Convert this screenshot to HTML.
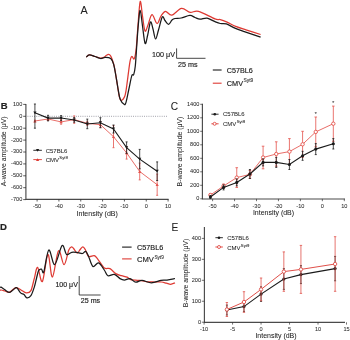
<!DOCTYPE html>
<html><head><meta charset="utf-8"><style>
html,body{margin:0;padding:0;background:#fff;width:350px;height:340px;overflow:hidden}
svg{display:block;will-change:transform}
text{font-family:"Liberation Sans",sans-serif;stroke:#1a1a1a;stroke-width:0.2px}
text.rl{stroke-width:0.02px}
tspan{stroke-width:0.06px}
text.sm{stroke-width:0.04px;fill:#2a2a2a;stroke:#2a2a2a}
text.lg{stroke-width:0.04px}
text.pl{stroke-width:0.05px}
text.bd{stroke-width:0.15px}
</style></head><body>
<svg width="350" height="340" viewBox="0 0 350 340">
<rect width="350" height="340" fill="#fff"/>
<path d="M86.20,57.10 C86.72,56.72 87.83,54.90 89.30,54.80 C90.77,54.70 93.12,55.93 95.00,56.50 C96.88,57.07 99.10,58.07 100.60,58.20 C102.10,58.33 103.02,57.80 104.00,57.30 C104.98,56.80 105.73,55.68 106.50,55.20 C107.27,54.72 107.92,54.30 108.60,54.40 C109.28,54.50 110.00,54.95 110.60,55.80 C111.20,56.65 111.53,57.47 112.20,59.50 C112.87,61.53 113.73,63.72 114.60,68.00 C115.47,72.28 116.62,80.43 117.40,85.20 C118.18,89.97 118.65,94.07 119.30,96.60 C119.95,99.13 120.50,100.23 121.30,100.40 C122.10,100.57 123.32,99.18 124.10,97.60 C124.88,96.02 125.03,96.80 126.00,90.90 C126.97,85.00 128.93,67.93 129.90,62.20 C130.87,56.47 131.08,57.07 131.80,56.50 C132.52,55.93 133.47,60.08 134.20,58.80 C134.93,57.52 135.57,54.43 136.20,48.80 C136.83,43.17 137.33,32.88 138.00,25.00 C138.67,17.12 139.45,3.00 140.20,1.50 C140.95,0.00 141.70,11.08 142.50,16.00 C143.30,20.92 144.08,29.50 145.00,31.00 C145.92,32.50 146.83,27.72 148.00,25.00 C149.17,22.28 150.48,14.95 152.00,14.70 C153.52,14.45 155.60,23.28 157.10,23.50 C158.60,23.72 159.60,18.03 161.00,16.00 C162.40,13.97 163.70,11.43 165.50,11.30 C167.30,11.17 169.13,15.68 171.80,15.20 C174.47,14.72 178.43,8.88 181.50,8.40 C184.57,7.92 187.37,11.82 190.20,12.30 C193.03,12.78 194.37,10.20 198.50,11.30 C202.63,12.40 211.37,17.52 215.00,18.90 C218.63,20.28 218.28,19.07 220.30,19.60 C222.32,20.13 224.53,20.97 227.10,22.10 C229.67,23.23 232.55,25.10 235.70,26.40 C238.85,27.70 241.85,28.55 246.00,29.90 C250.15,31.25 258.17,33.73 260.60,34.50" fill="none" stroke="#de3a33" stroke-width="1.25" stroke-linejoin="round"/>
<path d="M86.20,57.10 C86.72,56.72 87.83,54.90 89.30,54.80 C90.77,54.70 93.12,55.88 95.00,56.50 C96.88,57.12 98.93,58.35 100.60,58.50 C102.27,58.65 103.32,57.42 105.00,57.40 C106.68,57.38 109.27,57.28 110.70,58.40 C112.13,59.52 112.63,60.60 113.60,64.10 C114.57,67.60 115.70,74.93 116.50,79.40 C117.30,83.87 117.77,87.55 118.40,90.90 C119.03,94.25 119.35,97.27 120.30,99.50 C121.25,101.73 123.15,103.82 124.10,104.30 C125.05,104.78 125.20,104.95 126.00,102.40 C126.80,99.85 127.93,93.47 128.90,89.00 C129.87,84.53 131.00,78.00 131.80,75.60 C132.60,73.20 133.12,76.20 133.70,74.60 C134.28,73.00 134.78,70.93 135.30,66.00 C135.82,61.07 136.30,51.83 136.80,45.00 C137.30,38.17 137.73,30.78 138.30,25.00 C138.87,19.22 139.50,10.13 140.20,10.30 C140.90,10.47 141.68,20.48 142.50,26.00 C143.32,31.52 144.23,41.90 145.10,43.40 C145.97,44.90 146.80,38.57 147.70,35.00 C148.60,31.43 149.62,23.00 150.50,22.00 C151.38,21.00 152.15,26.17 153.00,29.00 C153.85,31.83 154.68,38.83 155.60,39.00 C156.52,39.17 157.38,33.68 158.50,30.00 C159.62,26.32 161.22,18.48 162.30,16.90 C163.38,15.32 163.95,19.25 165.00,20.50 C166.05,21.75 167.43,24.48 168.60,24.40 C169.77,24.32 170.93,20.98 172.00,20.00 C173.07,19.02 173.47,18.83 175.00,18.50 C176.53,18.17 178.72,18.52 181.20,18.00 C183.68,17.48 187.60,15.48 189.90,15.40 C192.20,15.32 193.32,16.87 195.00,17.50 C196.68,18.13 197.98,19.10 200.00,19.20 C202.02,19.30 204.60,17.68 207.10,18.10 C209.60,18.52 212.80,20.80 215.00,21.70 C217.20,22.60 218.42,23.13 220.30,23.50 C222.18,23.87 223.87,23.13 226.30,23.90 C228.73,24.67 231.90,26.82 234.90,28.10 C237.90,29.38 240.02,30.08 244.30,31.60 C248.58,33.12 257.88,36.27 260.60,37.20" fill="none" stroke="#1a1a1a" stroke-width="1.25" stroke-linejoin="round"/>
<text x="80.50" y="13.60" font-size="10.80" text-anchor="start" fill="#222" class="pl">A</text>
<path d="M176.6,48.4 V58.3 H205.5" fill="none" stroke="#333" stroke-width="0.9"/>
<text x="175.00" y="57.00" font-size="7.20" text-anchor="end" fill="#222" class="bd">100 &#956;V</text>
<text x="178.00" y="67.00" font-size="7.20" text-anchor="start" fill="#222" class="bd">25 ms</text>
<line x1="212.8" y1="70" x2="221.6" y2="70" stroke="#1a1a1a" stroke-width="1.1"/>
<line x1="212.8" y1="83.2" x2="221.6" y2="83.2" stroke="#de3a33" stroke-width="1.1"/>
<text x="226.80" y="72.90" font-size="7.20" text-anchor="start" fill="#222" class="bd">C57BL6</text>
<text x="226.80" y="85.60" font-size="7.30" text-anchor="start" fill="#222" class="bd">CMV<tspan font-size="4.9" dy="-3.3" dx="0.5">Syt9</tspan></text>
<text x="0.80" y="109.40" font-size="9.50" text-anchor="start" fill="#222" font-weight="bold">B</text>
<path d="M25.9,104 V199.4 H168.6" fill="none" stroke="#4a4a4a" stroke-width="1.15"/>
<line x1="23.2" y1="104.40" x2="26" y2="104.40" stroke="#333" stroke-width="0.8"/>
<text x="22.30" y="105.80" font-size="5.60" text-anchor="end" fill="#222"  class="sm">100</text>
<line x1="23.2" y1="116.30" x2="26" y2="116.30" stroke="#333" stroke-width="0.8"/>
<text x="22.30" y="117.70" font-size="5.60" text-anchor="end" fill="#222"  class="sm">0</text>
<line x1="23.2" y1="128.20" x2="26" y2="128.20" stroke="#333" stroke-width="0.8"/>
<text x="22.30" y="129.60" font-size="5.60" text-anchor="end" fill="#222"  class="sm">-100</text>
<line x1="23.2" y1="140.10" x2="26" y2="140.10" stroke="#333" stroke-width="0.8"/>
<text x="22.30" y="141.50" font-size="5.60" text-anchor="end" fill="#222"  class="sm">-200</text>
<line x1="23.2" y1="152.00" x2="26" y2="152.00" stroke="#333" stroke-width="0.8"/>
<text x="22.30" y="153.40" font-size="5.60" text-anchor="end" fill="#222"  class="sm">-300</text>
<line x1="23.2" y1="163.90" x2="26" y2="163.90" stroke="#333" stroke-width="0.8"/>
<text x="22.30" y="165.30" font-size="5.60" text-anchor="end" fill="#222"  class="sm">-400</text>
<line x1="23.2" y1="175.80" x2="26" y2="175.80" stroke="#333" stroke-width="0.8"/>
<text x="22.30" y="177.20" font-size="5.60" text-anchor="end" fill="#222"  class="sm">-500</text>
<line x1="23.2" y1="187.70" x2="26" y2="187.70" stroke="#333" stroke-width="0.8"/>
<text x="22.30" y="189.10" font-size="5.60" text-anchor="end" fill="#222"  class="sm">-600</text>
<line x1="23.2" y1="199.60" x2="26" y2="199.60" stroke="#333" stroke-width="0.8"/>
<text x="22.30" y="201.00" font-size="5.60" text-anchor="end" fill="#222"  class="sm">-700</text>
<line x1="37.10" y1="199.2" x2="37.10" y2="201.5" stroke="#333" stroke-width="0.8"/>
<text x="37.10" y="208.40" font-size="5.60" text-anchor="middle" fill="#222"  class="sm">-50</text>
<line x1="58.93" y1="199.2" x2="58.93" y2="201.5" stroke="#333" stroke-width="0.8"/>
<text x="58.93" y="208.40" font-size="5.60" text-anchor="middle" fill="#222"  class="sm">-40</text>
<line x1="80.76" y1="199.2" x2="80.76" y2="201.5" stroke="#333" stroke-width="0.8"/>
<text x="80.76" y="208.40" font-size="5.60" text-anchor="middle" fill="#222"  class="sm">-30</text>
<line x1="102.59" y1="199.2" x2="102.59" y2="201.5" stroke="#333" stroke-width="0.8"/>
<text x="102.59" y="208.40" font-size="5.60" text-anchor="middle" fill="#222"  class="sm">-20</text>
<line x1="124.42" y1="199.2" x2="124.42" y2="201.5" stroke="#333" stroke-width="0.8"/>
<text x="124.42" y="208.40" font-size="5.60" text-anchor="middle" fill="#222"  class="sm">-10</text>
<line x1="146.25" y1="199.2" x2="146.25" y2="201.5" stroke="#333" stroke-width="0.8"/>
<text x="146.25" y="208.40" font-size="5.60" text-anchor="middle" fill="#222"  class="sm">0</text>
<line x1="168.08" y1="199.2" x2="168.08" y2="201.5" stroke="#333" stroke-width="0.8"/>
<text x="168.08" y="208.40" font-size="5.60" text-anchor="middle" fill="#222"  class="sm">10</text>
<text x="97.20" y="216.40" font-size="7.00" text-anchor="middle" fill="#222" class="lg">Intensity (dB)</text>
<text transform="translate(5.8,151.3) rotate(-90)" font-size="6.9" text-anchor="middle" fill="#222" class="rl">A-wave amplitude (&#956;V)</text>
<line x1="27.5" y1="116.3" x2="168" y2="116.3" stroke="#445" stroke-width="0.55" stroke-dasharray="0.9,1.3"/>
<polyline points="34.92,121.00 48.02,119.00 61.11,121.90 74.21,119.60 87.31,123.30 100.41,124.70 113.50,136.70 126.60,152.90 139.70,171.50 157.16,184.70" fill="none" stroke="#e4534d" stroke-width="0.85"/>
<path d="M34.92,120.20 V121.80 M33.92,120.20 h2.00 M33.92,121.80 h2.00" stroke="#e4534d" stroke-width="0.8"/>
<path d="M33.32,122.40 h3.2 l-1.6,-2.8 z" fill="#e4534d"/>
<path d="M48.02,117.50 V120.50 M47.02,117.50 h2.00 M47.02,120.50 h2.00" stroke="#e4534d" stroke-width="0.8"/>
<path d="M46.41,120.40 h3.2 l-1.6,-2.8 z" fill="#e4534d"/>
<path d="M61.11,119.60 V124.20 M60.11,119.60 h2.00 M60.11,124.20 h2.00" stroke="#e4534d" stroke-width="0.8"/>
<path d="M59.51,123.30 h3.2 l-1.6,-2.8 z" fill="#e4534d"/>
<path d="M74.21,115.90 V123.30 M73.21,115.90 h2.00 M73.21,123.30 h2.00" stroke="#e4534d" stroke-width="0.8"/>
<path d="M72.61,121.00 h3.2 l-1.6,-2.8 z" fill="#e4534d"/>
<path d="M87.31,121.30 V125.30 M86.31,121.30 h2.00 M86.31,125.30 h2.00" stroke="#e4534d" stroke-width="0.8"/>
<path d="M85.71,124.70 h3.2 l-1.6,-2.8 z" fill="#e4534d"/>
<path d="M100.41,121.70 V127.70 M99.41,121.70 h2.00 M99.41,127.70 h2.00" stroke="#e4534d" stroke-width="0.8"/>
<path d="M98.81,126.10 h3.2 l-1.6,-2.8 z" fill="#e4534d"/>
<path d="M113.50,125.70 V147.70 M112.50,125.70 h2.00 M112.50,147.70 h2.00" stroke="#e4534d" stroke-width="0.8"/>
<path d="M111.91,138.10 h3.2 l-1.6,-2.8 z" fill="#e4534d"/>
<path d="M126.60,146.70 V159.10 M125.60,146.70 h2.00 M125.60,159.10 h2.00" stroke="#e4534d" stroke-width="0.8"/>
<path d="M125.00,154.30 h3.2 l-1.6,-2.8 z" fill="#e4534d"/>
<path d="M139.70,163.10 V179.90 M138.70,163.10 h2.00 M138.70,179.90 h2.00" stroke="#e4534d" stroke-width="0.8"/>
<path d="M138.10,172.90 h3.2 l-1.6,-2.8 z" fill="#e4534d"/>
<path d="M157.16,174.10 V195.30 M156.16,174.10 h2.00 M156.16,195.30 h2.00" stroke="#e4534d" stroke-width="0.8"/>
<path d="M155.56,186.10 h3.2 l-1.6,-2.8 z" fill="#e4534d"/>
<polyline points="34.92,112.80 48.02,118.10 61.11,118.10 74.21,119.90 87.31,123.90 100.41,122.70 113.50,129.00 126.60,147.60 139.70,159.10 157.16,171.20" fill="none" stroke="#1a1a1a" stroke-width="1.05"/>
<path d="M34.92,104.00 V128.20 M33.92,104.00 h2.00 M33.92,128.20 h2.00" stroke="#1a1a1a" stroke-width="0.8"/>
<path d="M33.32,111.40 h3.2 l-1.6,2.8 z" fill="#1a1a1a"/>
<path d="M48.02,115.30 V120.90 M47.02,115.30 h2.00 M47.02,120.90 h2.00" stroke="#1a1a1a" stroke-width="0.8"/>
<path d="M46.41,116.70 h3.2 l-1.6,2.8 z" fill="#1a1a1a"/>
<path d="M61.11,115.60 V120.60 M60.11,115.60 h2.00 M60.11,120.60 h2.00" stroke="#1a1a1a" stroke-width="0.8"/>
<path d="M59.51,116.70 h3.2 l-1.6,2.8 z" fill="#1a1a1a"/>
<path d="M74.21,117.60 V122.20 M73.21,117.60 h2.00 M73.21,122.20 h2.00" stroke="#1a1a1a" stroke-width="0.8"/>
<path d="M72.61,118.50 h3.2 l-1.6,2.8 z" fill="#1a1a1a"/>
<path d="M87.31,119.10 V128.70 M86.31,119.10 h2.00 M86.31,128.70 h2.00" stroke="#1a1a1a" stroke-width="0.8"/>
<path d="M85.71,122.50 h3.2 l-1.6,2.8 z" fill="#1a1a1a"/>
<path d="M100.41,117.70 V127.70 M99.41,117.70 h2.00 M99.41,127.70 h2.00" stroke="#1a1a1a" stroke-width="0.8"/>
<path d="M98.81,121.30 h3.2 l-1.6,2.8 z" fill="#1a1a1a"/>
<path d="M113.50,125.00 V133.00 M112.50,125.00 h2.00 M112.50,133.00 h2.00" stroke="#1a1a1a" stroke-width="0.8"/>
<path d="M111.91,127.60 h3.2 l-1.6,2.8 z" fill="#1a1a1a"/>
<path d="M126.60,141.90 V153.30 M125.60,141.90 h2.00 M125.60,153.30 h2.00" stroke="#1a1a1a" stroke-width="0.8"/>
<path d="M125.00,146.20 h3.2 l-1.6,2.8 z" fill="#1a1a1a"/>
<path d="M139.70,149.40 V168.80 M138.70,149.40 h2.00 M138.70,168.80 h2.00" stroke="#1a1a1a" stroke-width="0.8"/>
<path d="M138.10,157.70 h3.2 l-1.6,2.8 z" fill="#1a1a1a"/>
<path d="M157.16,161.90 V180.50 M156.16,161.90 h2.00 M156.16,180.50 h2.00" stroke="#1a1a1a" stroke-width="0.8"/>
<path d="M155.56,169.80 h3.2 l-1.6,2.8 z" fill="#1a1a1a"/>
<line x1="33.3" y1="150.3" x2="41.9" y2="150.3" stroke="#1a1a1a" stroke-width="0.9"/><path d="M36,148.9 h3.2 l-1.6,2.8 z" fill="#1a1a1a"/>
<line x1="33.3" y1="159.6" x2="41.9" y2="159.6" stroke="#de3a33" stroke-width="0.9"/><path d="M36,161 h3.2 l-1.6,-2.8 z" fill="#de3a33"/>
<text x="45.70" y="152.70" font-size="6.00" text-anchor="start" fill="#222" class="lg">C57BL6</text>
<text x="45.70" y="162.20" font-size="6.00" text-anchor="start" fill="#222" class="lg">CMV<tspan font-size="4.2" dy="-3" dx="0.3">Syt9</tspan></text>
<text x="170.80" y="109.80" font-size="10.20" text-anchor="start" fill="#222" class="pl">C</text>
<path d="M202.4,103.8 V199 H345" fill="none" stroke="#4a4a4a" stroke-width="1.15"/>
<line x1="200.2" y1="198.80" x2="202.7" y2="198.80" stroke="#333" stroke-width="0.7"/>
<text x="199.40" y="200.30" font-size="5.60" text-anchor="end" fill="#222"  class="sm">0</text>
<line x1="200.2" y1="185.30" x2="202.7" y2="185.30" stroke="#333" stroke-width="0.7"/>
<text x="199.40" y="186.80" font-size="5.60" text-anchor="end" fill="#222"  class="sm">200</text>
<line x1="200.2" y1="171.80" x2="202.7" y2="171.80" stroke="#333" stroke-width="0.7"/>
<text x="199.40" y="173.30" font-size="5.60" text-anchor="end" fill="#222"  class="sm">400</text>
<line x1="200.2" y1="158.30" x2="202.7" y2="158.30" stroke="#333" stroke-width="0.7"/>
<text x="199.40" y="159.80" font-size="5.60" text-anchor="end" fill="#222"  class="sm">600</text>
<line x1="200.2" y1="144.80" x2="202.7" y2="144.80" stroke="#333" stroke-width="0.7"/>
<text x="199.40" y="146.30" font-size="5.60" text-anchor="end" fill="#222"  class="sm">800</text>
<line x1="200.2" y1="131.30" x2="202.7" y2="131.30" stroke="#333" stroke-width="0.7"/>
<text x="199.40" y="132.80" font-size="5.60" text-anchor="end" fill="#222"  class="sm">1000</text>
<line x1="200.2" y1="117.80" x2="202.7" y2="117.80" stroke="#333" stroke-width="0.7"/>
<text x="199.40" y="119.30" font-size="5.60" text-anchor="end" fill="#222"  class="sm">1200</text>
<line x1="200.2" y1="104.30" x2="202.7" y2="104.30" stroke="#333" stroke-width="0.7"/>
<text x="199.40" y="105.80" font-size="5.60" text-anchor="end" fill="#222"  class="sm">1400</text>
<line x1="212.60" y1="198.9" x2="212.60" y2="201.2" stroke="#333" stroke-width="0.7"/>
<text x="212.60" y="208.00" font-size="5.60" text-anchor="middle" fill="#222"  class="sm">-50</text>
<line x1="234.55" y1="198.9" x2="234.55" y2="201.2" stroke="#333" stroke-width="0.7"/>
<text x="234.55" y="208.00" font-size="5.60" text-anchor="middle" fill="#222"  class="sm">-40</text>
<line x1="256.50" y1="198.9" x2="256.50" y2="201.2" stroke="#333" stroke-width="0.7"/>
<text x="256.50" y="208.00" font-size="5.60" text-anchor="middle" fill="#222"  class="sm">-30</text>
<line x1="278.45" y1="198.9" x2="278.45" y2="201.2" stroke="#333" stroke-width="0.7"/>
<text x="278.45" y="208.00" font-size="5.60" text-anchor="middle" fill="#222"  class="sm">-20</text>
<line x1="300.40" y1="198.9" x2="300.40" y2="201.2" stroke="#333" stroke-width="0.7"/>
<text x="300.40" y="208.00" font-size="5.60" text-anchor="middle" fill="#222"  class="sm">-10</text>
<line x1="322.35" y1="198.9" x2="322.35" y2="201.2" stroke="#333" stroke-width="0.7"/>
<text x="322.35" y="208.00" font-size="5.60" text-anchor="middle" fill="#222"  class="sm">0</text>
<line x1="344.30" y1="198.9" x2="344.30" y2="201.2" stroke="#333" stroke-width="0.7"/>
<text x="344.30" y="208.00" font-size="5.60" text-anchor="middle" fill="#222"  class="sm">10</text>
<text x="273.50" y="214.50" font-size="7.00" text-anchor="middle" fill="#222" class="lg">Intensity (dB)</text>
<text transform="translate(182.2,151.5) rotate(-90)" font-size="6.9" text-anchor="middle" fill="#222" class="rl">B-wave amplitude (&#956;V)</text>
<polyline points="210.41,195.00 223.57,186.00 236.75,177.60 249.91,174.40 263.08,157.50 276.25,154.00 289.42,151.60 302.59,144.30 315.76,131.90 333.32,123.70" fill="none" stroke="#e4534d" stroke-width="0.85"/>
<path d="M210.41,193.50 V196.50 M209.10,193.50 h2.60 M209.10,196.50 h2.60" stroke="#e4534d" stroke-width="0.8"/>
<circle cx="210.41" cy="195.00" r="1.7" fill="#fff" stroke="#e4534d" stroke-width="0.9"/>
<path d="M223.57,184.00 V188.00 M222.27,184.00 h2.60 M222.27,188.00 h2.60" stroke="#e4534d" stroke-width="0.8"/>
<circle cx="223.57" cy="186.00" r="1.7" fill="#fff" stroke="#e4534d" stroke-width="0.9"/>
<path d="M236.75,167.70 V187.50 M235.44,167.70 h2.60 M235.44,187.50 h2.60" stroke="#e4534d" stroke-width="0.8"/>
<circle cx="236.75" cy="177.60" r="1.7" fill="#fff" stroke="#e4534d" stroke-width="0.9"/>
<path d="M249.91,170.40 V178.40 M248.61,170.40 h2.60 M248.61,178.40 h2.60" stroke="#e4534d" stroke-width="0.8"/>
<circle cx="249.91" cy="174.40" r="1.7" fill="#fff" stroke="#e4534d" stroke-width="0.9"/>
<path d="M263.08,146.20 V168.80 M261.78,146.20 h2.60 M261.78,168.80 h2.60" stroke="#e4534d" stroke-width="0.8"/>
<circle cx="263.08" cy="157.50" r="1.7" fill="#fff" stroke="#e4534d" stroke-width="0.9"/>
<path d="M276.25,141.80 V166.20 M274.95,141.80 h2.60 M274.95,166.20 h2.60" stroke="#e4534d" stroke-width="0.8"/>
<circle cx="276.25" cy="154.00" r="1.7" fill="#fff" stroke="#e4534d" stroke-width="0.9"/>
<path d="M289.42,138.60 V164.60 M288.12,138.60 h2.60 M288.12,164.60 h2.60" stroke="#e4534d" stroke-width="0.8"/>
<circle cx="289.42" cy="151.60" r="1.7" fill="#fff" stroke="#e4534d" stroke-width="0.9"/>
<path d="M302.59,131.30 V157.30 M301.29,131.30 h2.60 M301.29,157.30 h2.60" stroke="#e4534d" stroke-width="0.8"/>
<circle cx="302.59" cy="144.30" r="1.7" fill="#fff" stroke="#e4534d" stroke-width="0.9"/>
<path d="M315.76,117.00 V146.80 M314.46,117.00 h2.60 M314.46,146.80 h2.60" stroke="#e4534d" stroke-width="0.8"/>
<circle cx="315.76" cy="131.90" r="1.7" fill="#fff" stroke="#e4534d" stroke-width="0.9"/>
<path d="M333.32,106.10 V141.30 M332.02,106.10 h2.60 M332.02,141.30 h2.60" stroke="#e4534d" stroke-width="0.8"/>
<circle cx="333.32" cy="123.70" r="1.7" fill="#fff" stroke="#e4534d" stroke-width="0.9"/>
<polyline points="210.41,197.00 223.57,187.40 236.75,182.40 249.91,174.00 263.08,162.40 276.25,162.40 289.42,164.50 302.59,155.80 315.76,149.10 333.32,143.80" fill="none" stroke="#1a1a1a" stroke-width="1.10"/>
<path d="M210.41,195.50 V198.50 M209.41,195.50 h2.00 M209.41,198.50 h2.00" stroke="#1a1a1a" stroke-width="0.8"/>
<circle cx="210.41" cy="197.00" r="1.55" fill="#1a1a1a"/>
<path d="M223.57,184.90 V189.90 M222.57,184.90 h2.00 M222.57,189.90 h2.00" stroke="#1a1a1a" stroke-width="0.8"/>
<circle cx="223.57" cy="187.40" r="1.55" fill="#1a1a1a"/>
<path d="M236.75,178.90 V185.90 M235.75,178.90 h2.00 M235.75,185.90 h2.00" stroke="#1a1a1a" stroke-width="0.8"/>
<circle cx="236.75" cy="182.40" r="1.55" fill="#1a1a1a"/>
<path d="M249.91,169.50 V178.50 M248.91,169.50 h2.00 M248.91,178.50 h2.00" stroke="#1a1a1a" stroke-width="0.8"/>
<circle cx="249.91" cy="174.00" r="1.55" fill="#1a1a1a"/>
<path d="M263.08,158.90 V165.90 M262.08,158.90 h2.00 M262.08,165.90 h2.00" stroke="#1a1a1a" stroke-width="0.8"/>
<circle cx="263.08" cy="162.40" r="1.55" fill="#1a1a1a"/>
<path d="M276.25,157.40 V167.40 M275.25,157.40 h2.00 M275.25,167.40 h2.00" stroke="#1a1a1a" stroke-width="0.8"/>
<circle cx="276.25" cy="162.40" r="1.55" fill="#1a1a1a"/>
<path d="M289.42,159.50 V169.50 M288.42,159.50 h2.00 M288.42,169.50 h2.00" stroke="#1a1a1a" stroke-width="0.8"/>
<circle cx="289.42" cy="164.50" r="1.55" fill="#1a1a1a"/>
<path d="M302.59,151.30 V160.30 M301.59,151.30 h2.00 M301.59,160.30 h2.00" stroke="#1a1a1a" stroke-width="0.8"/>
<circle cx="302.59" cy="155.80" r="1.55" fill="#1a1a1a"/>
<path d="M315.76,143.60 V154.60 M314.76,143.60 h2.00 M314.76,154.60 h2.00" stroke="#1a1a1a" stroke-width="0.8"/>
<circle cx="315.76" cy="149.10" r="1.55" fill="#1a1a1a"/>
<path d="M333.32,138.60 V149.00 M332.32,138.60 h2.00 M332.32,149.00 h2.00" stroke="#1a1a1a" stroke-width="0.8"/>
<circle cx="333.32" cy="143.80" r="1.55" fill="#1a1a1a"/>
<text x="315.76" y="115.70" font-size="5.00" text-anchor="middle" fill="#222" class="sm">*</text>
<text x="333.32" y="105.00" font-size="5.00" text-anchor="middle" fill="#222" class="sm">*</text>
<line x1="211.4" y1="114.2" x2="218.6" y2="114.2" stroke="#1a1a1a" stroke-width="0.9"/><circle cx="214.8" cy="114.2" r="1.3" fill="#1a1a1a"/>
<line x1="211.4" y1="123.8" x2="218.6" y2="123.8" stroke="#de3a33" stroke-width="0.9"/><circle cx="214.6" cy="123.8" r="1.5" fill="#fff" stroke="#de3a33" stroke-width="0.8"/>
<text x="223.00" y="115.80" font-size="6.00" text-anchor="start" fill="#222" class="lg">C57BL6</text>
<text x="223.00" y="126.30" font-size="6.00" text-anchor="start" fill="#222" class="lg">CMV<tspan font-size="4.2" dy="-3" dx="0.3">Syt9</tspan></text>
<path d="M0.00,290.50 C0.18,290.42 0.27,289.92 1.10,290.00 C1.93,290.08 3.67,290.62 5.00,291.00 C6.33,291.38 7.77,292.55 9.10,292.30 C10.43,292.05 11.75,290.27 13.00,289.50 C14.25,288.73 15.27,287.62 16.60,287.70 C17.93,287.78 19.38,289.13 21.00,290.00 C22.62,290.87 24.65,292.80 26.30,292.90 C27.95,293.00 29.57,293.00 30.90,290.60 C32.23,288.20 33.18,282.37 34.30,278.50 C35.42,274.63 36.25,266.90 37.60,267.40 C38.95,267.90 40.68,283.67 42.40,281.50 C44.12,279.33 46.23,255.15 47.90,254.40 C49.57,253.65 50.63,277.58 52.40,277.00 C54.17,276.42 56.55,252.95 58.50,250.90 C60.45,248.85 62.38,264.85 64.10,264.70 C65.82,264.55 67.55,252.98 68.80,250.00 C70.05,247.02 70.68,246.88 71.60,246.80 C72.52,246.72 73.37,248.43 74.30,249.50 C75.23,250.57 76.22,253.20 77.20,253.20 C78.18,253.20 79.25,250.57 80.20,249.50 C81.15,248.43 82.02,246.72 82.90,246.80 C83.78,246.88 84.55,248.40 85.50,250.00 C86.45,251.60 87.13,255.45 88.60,256.40 C90.07,257.35 92.75,255.22 94.30,255.70 C95.85,256.18 96.23,257.27 97.90,259.30 C99.57,261.33 102.28,266.35 104.30,267.90 C106.32,269.45 108.10,267.65 110.00,268.60 C111.90,269.55 113.80,272.42 115.70,273.60 C117.60,274.78 119.50,275.12 121.40,275.70 C123.30,276.28 125.67,276.50 127.10,277.10 C128.53,277.70 128.57,278.78 130.00,279.30 C131.43,279.82 134.03,280.02 135.70,280.20 C137.37,280.38 138.10,280.13 140.00,280.40 C141.90,280.67 144.72,281.53 147.10,281.80 C149.48,282.07 151.92,281.97 154.30,282.00 C156.68,282.03 159.38,281.80 161.40,282.00 C163.42,282.20 164.85,282.82 166.40,283.20 C167.95,283.58 169.27,284.37 170.70,284.30 C172.13,284.23 174.28,283.05 175.00,282.80" fill="none" stroke="#de3a33" stroke-width="1.25" stroke-linejoin="round"/>
<path d="M0.00,287.60 C0.18,287.52 0.35,286.77 1.10,287.10 C1.85,287.43 3.17,288.73 4.50,289.60 C5.83,290.47 7.68,292.23 9.10,292.30 C10.52,292.37 11.75,290.77 13.00,290.00 C14.25,289.23 15.33,287.22 16.60,287.70 C17.87,288.18 19.37,291.75 20.60,292.90 C21.83,294.05 22.95,293.78 24.00,294.60 C25.05,295.42 25.75,297.62 26.90,297.80 C28.05,297.98 29.67,297.48 30.90,295.70 C32.13,293.92 33.35,290.05 34.30,287.10 C35.25,284.15 35.88,280.75 36.60,278.00 C37.32,275.25 37.78,272.08 38.60,270.60 C39.42,269.12 40.63,268.90 41.50,269.10 C42.37,269.30 42.58,274.98 43.80,271.80 C45.02,268.62 46.98,251.22 48.80,250.00 C50.62,248.78 52.48,265.23 54.70,264.50 C56.92,263.77 60.13,247.28 62.10,245.60 C64.07,243.92 64.88,253.28 66.50,254.40 C68.12,255.52 69.90,252.60 71.80,252.30 C73.70,252.00 76.13,252.40 77.90,252.60 C79.67,252.80 81.10,253.70 82.40,253.50 C83.70,253.30 84.67,250.92 85.70,251.40 C86.73,251.88 87.40,253.90 88.60,256.40 C89.80,258.90 91.23,265.32 92.90,266.40 C94.57,267.48 96.70,262.30 98.60,262.90 C100.50,263.50 102.75,267.87 104.30,270.00 C105.85,272.13 106.23,274.98 107.90,275.70 C109.57,276.42 112.28,273.82 114.30,274.30 C116.32,274.78 118.33,277.65 120.00,278.60 C121.67,279.55 122.63,280.00 124.30,280.00 C125.97,280.00 128.10,278.23 130.00,278.60 C131.90,278.97 133.70,281.90 135.70,282.20 C137.70,282.50 139.38,280.30 142.00,280.40 C144.62,280.50 148.23,282.80 151.40,282.80 C154.57,282.80 158.40,280.85 161.00,280.40 C163.60,279.95 164.67,280.42 167.00,280.10 C169.33,279.78 173.67,278.77 175.00,278.50" fill="none" stroke="#1a1a1a" stroke-width="1.25" stroke-linejoin="round"/>
<text x="0.00" y="230.40" font-size="9.50" text-anchor="start" fill="#222" font-weight="bold">D</text>
<path d="M79.2,276 V295 H100.6" fill="none" stroke="#333" stroke-width="0.9"/>
<text x="77.80" y="287.00" font-size="7.00" text-anchor="end" fill="#222" class="bd">100 &#956;V</text>
<text x="80.80" y="302.70" font-size="7.10" text-anchor="start" fill="#222" class="bd">25 ms</text>
<line x1="122.1" y1="247.1" x2="131.6" y2="247.1" stroke="#1a1a1a" stroke-width="1.1"/>
<line x1="122.1" y1="258.9" x2="131.6" y2="258.9" stroke="#de3a33" stroke-width="1.1"/>
<text x="137.00" y="250.00" font-size="7.25" text-anchor="start" fill="#222" class="bd">C57BL6</text>
<text x="137.00" y="262.00" font-size="7.60" text-anchor="start" fill="#222" class="bd">CMV<tspan font-size="4.7" dy="-3.4" dx="0.5">Syt9</tspan></text>
<text x="171.60" y="231.00" font-size="10.20" text-anchor="start" fill="#222" class="pl">E</text>
<path d="M204.4,227 V322.3 H345" fill="none" stroke="#4a4a4a" stroke-width="1.15"/>
<line x1="201.8" y1="322.20" x2="204.3" y2="322.20" stroke="#333" stroke-width="0.7"/>
<text x="201.00" y="323.70" font-size="5.60" text-anchor="end" fill="#222"  class="sm">0</text>
<line x1="201.8" y1="301.25" x2="204.3" y2="301.25" stroke="#333" stroke-width="0.7"/>
<text x="201.00" y="302.75" font-size="5.60" text-anchor="end" fill="#222"  class="sm">100</text>
<line x1="201.8" y1="280.30" x2="204.3" y2="280.30" stroke="#333" stroke-width="0.7"/>
<text x="201.00" y="281.80" font-size="5.60" text-anchor="end" fill="#222"  class="sm">200</text>
<line x1="201.8" y1="259.35" x2="204.3" y2="259.35" stroke="#333" stroke-width="0.7"/>
<text x="201.00" y="260.85" font-size="5.60" text-anchor="end" fill="#222"  class="sm">300</text>
<line x1="201.8" y1="238.40" x2="204.3" y2="238.40" stroke="#333" stroke-width="0.7"/>
<text x="201.00" y="239.90" font-size="5.60" text-anchor="end" fill="#222"  class="sm">400</text>
<line x1="204.10" y1="322.3" x2="204.10" y2="324.6" stroke="#333" stroke-width="0.7"/>
<text x="204.10" y="330.50" font-size="5.60" text-anchor="middle" fill="#222"  class="sm">-10</text>
<line x1="232.58" y1="322.3" x2="232.58" y2="324.6" stroke="#333" stroke-width="0.7"/>
<text x="232.58" y="330.50" font-size="5.60" text-anchor="middle" fill="#222"  class="sm">-5</text>
<line x1="261.06" y1="322.3" x2="261.06" y2="324.6" stroke="#333" stroke-width="0.7"/>
<text x="261.06" y="330.50" font-size="5.60" text-anchor="middle" fill="#222"  class="sm">0</text>
<line x1="289.54" y1="322.3" x2="289.54" y2="324.6" stroke="#333" stroke-width="0.7"/>
<text x="289.54" y="330.50" font-size="5.60" text-anchor="middle" fill="#222"  class="sm">5</text>
<line x1="318.02" y1="322.3" x2="318.02" y2="324.6" stroke="#333" stroke-width="0.7"/>
<text x="318.02" y="330.50" font-size="5.60" text-anchor="middle" fill="#222"  class="sm">10</text>
<line x1="346.50" y1="322.3" x2="346.50" y2="324.6" stroke="#333" stroke-width="0.7"/>
<text x="346.50" y="330.50" font-size="5.60" text-anchor="middle" fill="#222"  class="sm">15</text>
<text x="276.00" y="338.00" font-size="7.00" text-anchor="middle" fill="#222" class="lg">Intensity (dB)</text>
<text transform="translate(187.6,273) rotate(-90)" font-size="6.75" text-anchor="middle" fill="#222" class="rl">B-wave amplitude (&#956;V)</text>
<line x1="215.4" y1="237.7" x2="222.9" y2="237.7" stroke="#1a1a1a" stroke-width="0.9"/><circle cx="219" cy="237.7" r="1.3" fill="#1a1a1a"/>
<line x1="215.4" y1="247" x2="222.9" y2="247" stroke="#de3a33" stroke-width="0.9"/><circle cx="219" cy="247" r="1.5" fill="#fff" stroke="#de3a33" stroke-width="0.8"/>
<text x="227.20" y="239.80" font-size="6.00" text-anchor="start" fill="#222" class="lg">C57BL6</text>
<polyline points="226.88,310.00 243.97,306.60 261.06,294.10 283.84,279.00 300.93,274.60 335.11,268.60" fill="none" stroke="#1a1a1a" stroke-width="1.10"/>
<path d="M226.88,305.00 V315.00 M225.88,305.00 h2.00 M225.88,315.00 h2.00" stroke="#1a1a1a" stroke-width="0.8"/>
<circle cx="226.88" cy="310.00" r="1.55" fill="#1a1a1a"/>
<path d="M243.97,301.60 V311.60 M242.97,301.60 h2.00 M242.97,311.60 h2.00" stroke="#1a1a1a" stroke-width="0.8"/>
<circle cx="243.97" cy="306.60" r="1.55" fill="#1a1a1a"/>
<path d="M261.06,286.80 V301.40 M260.06,286.80 h2.00 M260.06,301.40 h2.00" stroke="#1a1a1a" stroke-width="0.8"/>
<circle cx="261.06" cy="294.10" r="1.55" fill="#1a1a1a"/>
<path d="M283.84,268.60 V289.40 M282.84,268.60 h2.00 M282.84,289.40 h2.00" stroke="#1a1a1a" stroke-width="0.8"/>
<circle cx="283.84" cy="279.00" r="1.55" fill="#1a1a1a"/>
<path d="M300.93,265.60 V283.60 M299.93,265.60 h2.00 M299.93,283.60 h2.00" stroke="#1a1a1a" stroke-width="0.8"/>
<circle cx="300.93" cy="274.60" r="1.55" fill="#1a1a1a"/>
<path d="M335.11,256.40 V280.80 M334.11,256.40 h2.00 M334.11,280.80 h2.00" stroke="#1a1a1a" stroke-width="0.8"/>
<circle cx="335.11" cy="268.60" r="1.55" fill="#1a1a1a"/>
<polyline points="226.88,309.50 243.97,302.00 261.06,289.40 283.84,271.60 300.93,269.40 335.11,264.00" fill="none" stroke="#e0504a" stroke-width="1.00"/>
<path d="M226.88,302.50 V316.50 M225.68,302.50 h2.40 M225.68,316.50 h2.40" stroke="#e0504a" stroke-width="0.8"/>
<circle cx="226.88" cy="309.50" r="1.7" fill="#fff" stroke="#e0504a" stroke-width="0.9"/>
<path d="M243.97,291.70 V312.30 M242.77,291.70 h2.40 M242.77,312.30 h2.40" stroke="#e0504a" stroke-width="0.8"/>
<circle cx="243.97" cy="302.00" r="1.7" fill="#fff" stroke="#e0504a" stroke-width="0.9"/>
<path d="M261.06,278.00 V300.80 M259.86,278.00 h2.40 M259.86,300.80 h2.40" stroke="#e0504a" stroke-width="0.8"/>
<circle cx="261.06" cy="289.40" r="1.7" fill="#fff" stroke="#e0504a" stroke-width="0.9"/>
<path d="M283.84,251.90 V291.30 M282.64,251.90 h2.40 M282.64,291.30 h2.40" stroke="#e0504a" stroke-width="0.8"/>
<circle cx="283.84" cy="271.60" r="1.7" fill="#fff" stroke="#e0504a" stroke-width="0.9"/>
<path d="M300.93,245.40 V293.40 M299.73,245.40 h2.40 M299.73,293.40 h2.40" stroke="#e0504a" stroke-width="0.8"/>
<circle cx="300.93" cy="269.40" r="1.7" fill="#fff" stroke="#e0504a" stroke-width="0.9"/>
<path d="M335.11,236.70 V291.30 M333.91,236.70 h2.40 M333.91,291.30 h2.40" stroke="#e0504a" stroke-width="0.8"/>
<circle cx="335.11" cy="264.00" r="1.7" fill="#fff" stroke="#e0504a" stroke-width="0.9"/>
<text x="227.20" y="249.70" font-size="6.00" text-anchor="start" fill="#222" class="lg">CMV<tspan font-size="4.2" dy="-3" dx="0.3">Syt9</tspan></text>
</svg>
</body></html>
